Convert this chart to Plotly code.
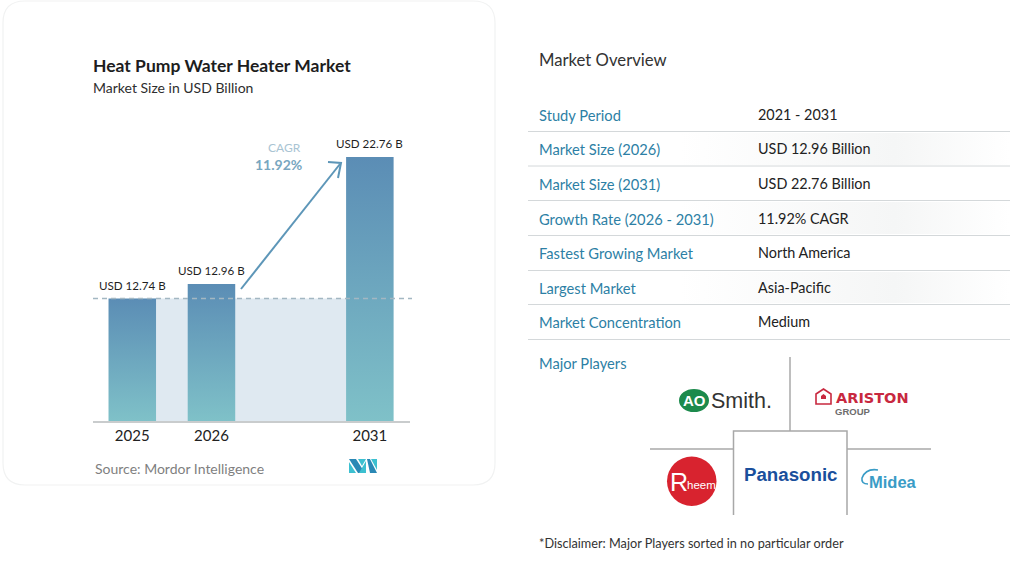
import plotly.graph_objects as go

# chart data
years = ['2025', '2026', '2031']
year_pos = [0, 1, 3]  # 2031 sits two slots along, the axis is not to scale
bar_labels = ['USD 12.74 B', 'USD 12.96 B', 'USD 22.76 B']
# bar heights as drawn (the picture does not follow the printed numbers)
bar_heights = [10.56, 11.81, 22.76]

# overview table
row_names = ['Study Period', 'Market Size (2026)', 'Market Size (2031)', 'Growth Rate (2026 - 2031)',
             'Fastest Growing Market', 'Largest Market', 'Market Concentration']
row_values = ['2021 - 2031', 'USD 12.96 Billion', 'USD 22.76 Billion', '11.92% CAGR',
              'North America', 'Asia-Pacific', 'Medium']
row_text_y = [115, 149, 184, 219, 253, 288, 322]
row_line_y = [131.5, 166, 200.5, 235.5, 270.5, 304.5, 339.5]
shaded_rows = [(133, 165), (202, 234), (272, 303)]

W, H = 1013, 565
FONT = 'Lato'
BAR_W = 0.3
BAR_TOP = '#5b8db5'
BAR_BOTTOM = '#7fc1c8'
TEAL = '#2d7fa5'
GRID = '#d4d8da'
LOGO_LINE = '#a8a8a8'

fig = go.Figure()

# light area behind the bars, at the 2025 level
fig.add_trace(go.Scatter(x=[year_pos[0], year_pos[0], year_pos[-1], year_pos[-1]],
                         y=[0, bar_heights[0], bar_heights[0], 0],
                         mode='lines', fill='toself', fillcolor='#dfe9f1',
                         line=dict(width=0), hoverinfo='skip', showlegend=False))

# bars, scatter because go.Bar can't do a gradient fill
for pos, h, year in zip(year_pos, bar_heights, years):
    fig.add_trace(go.Scatter(x=[pos - BAR_W, pos - BAR_W, pos + BAR_W, pos + BAR_W],
                             y=[0, h, h, 0], mode='lines', fill='toself', name=year,
                             fillgradient=dict(type='vertical',
                                               colorscale=[[0, BAR_BOTTOM], [1, BAR_TOP]]),
                             line=dict(width=0), showlegend=False))

# gradient bands on the table rows, on the full page pixel axes
for top, bottom in shaded_rows:
    fig.add_trace(go.Scatter(x=[680, 680, 1010, 1010], y=[bottom, top, top, bottom],
                             mode='lines', fill='toself', xaxis='x2', yaxis='y2',
                             fillgradient=dict(type='horizontal',
                                               colorscale=[[0, '#ffffff'], [0.65, '#f5f6f6'], [1, '#ffffff']]),
                             line=dict(width=0), hoverinfo='skip', showlegend=False))

shapes = []


def page_line(x0, y0, x1, y1, color, width=1.0, dash='solid'):
    shapes.append(dict(type='line', xref='x2', yref='y2', x0=x0, y0=y0, x1=x1, y1=y1,
                       line=dict(color=color, width=width, dash=dash)))


def page_path(path, fill=None, line=None, width=0):
    shapes.append(dict(type='path', xref='x2', yref='y2', path=path,
                       fillcolor=fill or 'rgba(0,0,0,0)',
                       line=dict(color=line or 'rgba(0,0,0,0)', width=width)))


# card outline
page_path('M25,1 L473,1 Q495,1 495,23 L495,463 Q495,485 473,485 L25,485 Q3,485 3,463 L3,23 Q3,1 25,1 Z',
          line='#f1f2f2', width=1.2)

# dashed level line
shapes.append(dict(type='line', xref='x2', yref='y', x0=93, x1=412,
                   y0=bar_heights[0], y1=bar_heights[0], layer='above',
                   line=dict(color='#a3b7c2', width=1.4, dash='5px,4px')))

# CAGR arrow
page_path('M241,289 L340,164', line='#5d96b8', width=2)
page_path('M328,162 L341,163 L338,178', line='#5d96b8', width=2)

# table lines
for y in row_line_y:
    page_line(528, y, 1010, y, GRID, 1)

# logo grid
page_line(790, 357, 790, 431, LOGO_LINE, 1.5)
page_line(650, 449, 733, 449, LOGO_LINE, 1.5)
page_line(847, 449, 931, 449, LOGO_LINE, 1.5)
page_path('M733.5,515 L733.5,431 L847,431 L847,515', line=LOGO_LINE, width=1.5)

# logos
shapes.append(dict(type='circle', xref='x2', yref='y2', x0=679, y0=389, x1=709, y1=412,
                   fillcolor='#1c8a4c', line=dict(width=0)))
shapes.append(dict(type='circle', xref='x2', yref='y2', x0=667, y0=456.5, x1=716.5, y1=506,
                   fillcolor='#d8232f', line=dict(width=0)))
page_path('M816,397 L816,394 L823.5,389 L831,394 L831,404 L816,404 Z', line='#c8283f', width=1.6)
page_path('M821,399 L821,396 L823.5,394 L826,396 L826,399 Z', fill='#c8283f')
page_path('M878,470 Q866,468 862,478 Q861,484 868,484', line='#3a9cc6', width=1.6)

# Mordor mark
page_path('M349,462 L349,473 L356,473 Z', fill='#3cc0d0')
page_path('M349,459 L356,459 L365,473 L358,473 Z', fill='#2a88b5')
page_path('M358,459 L366,459 L362,466 Z', fill='#3cc0d0')
page_path('M366,461 L366,473 L359,473 Z', fill='#3cc0d0')
page_path('M367,459 L370,459 L377,473 L370,473 Z', fill='#2a88b5')
page_path('M371,459 L377,459 L377,470 Z', fill='#3cc0d0')

notes = []

# value labels sit on the bars
for pos, h, label in zip(year_pos, bar_heights, bar_labels):
    notes.append(dict(xref='x', yref='y', x=pos, y=h, text=label, showarrow=False,
                      xanchor='center', yanchor='bottom', yshift=5,
                      font=dict(family=FONT, size=11.6, color='#1f1f1f')))


def text(x, y, s, size, color='#222222', anchor='left', family=FONT, weight=None):
    # annotations carry about 2px of padding on the left
    shift = -2 if anchor == 'left' else 0
    notes.append(dict(xref='x2', yref='y2', x=x + shift, y=y - 0.5, text=s, showarrow=False,
                      xanchor=anchor, yanchor='middle',
                      font=dict(family=family, size=size, color=color, weight=weight)))


text(93, 66, 'Heat Pump Water Heater Market', 17.5, '#1d1d1d', weight=700)
text(93, 88, 'Market Size in USD Billion', 14, '#2e2e2e')
text(303, 148, 'CAGR', 12, '#a9c4d3', anchor='right')
text(304, 165, '11.92%', 14, '#78a6c0', anchor='right', weight=700)
text(95, 469, 'Source: Mordor Intelligence', 14, '#7f7f7f')

text(539, 60, 'Market Overview', 16.7, '#333333')
for name, value, y in zip(row_names, row_values, row_text_y):
    text(539, y, name, 14.7, TEAL)
    text(758, y, value, 14.4, '#222222')
text(539, 363, 'Major Players', 14.7, TEAL)
text(539, 543, '*Disclaimer: Major Players sorted in no particular order', 12.7, '#333333')

# logo wordmarks
text(694, 401, 'AO', 15, '#ffffff', anchor='center', weight=700, family='Liberation Sans')
text(711, 401, 'Smith.', 21.5, '#333333', family='Liberation Sans')
text(836, 398, 'ARISTON', 14.5, '#c8283f', weight=700, family='DejaVu Sans')
text(835, 412, 'GROUP', 9.5, '#6d6d6d', weight=700, family='Liberation Sans')
text(679, 482, 'R', 25, '#ffffff', anchor='center', family='Liberation Sans')
text(701, 485, 'heem', 11.5, '#ffffff', anchor='center', family='Liberation Sans')
text(790, 475, 'Panasonic', 18.7, '#1a4f9c', anchor='center', weight=700, family='Liberation Sans')
text(893, 482, 'Midea', 16.5, '#3a9cc6', anchor='center', weight=700, family='Liberation Sans')

fig.update_layout(
    width=W, height=H, margin=dict(l=0, r=0, t=0, b=0),
    paper_bgcolor='white', plot_bgcolor='rgba(0,0,0,0)',
    shapes=shapes, annotations=notes,
    xaxis=dict(domain=[93 / W, 410 / W], range=[-0.496, 3.507], tickvals=year_pos, ticktext=years,
               showgrid=False, zeroline=False, showline=True, linecolor='#c9cccd', linewidth=1.5,
               ticks='', tickfont=dict(family=FONT, size=15, color='#222222')),
    yaxis=dict(domain=[1 - 421 / H, 1 - 130 / H], range=[0, 291 / 11.6], visible=False,
               showgrid=False, zeroline=False),
    xaxis2=dict(domain=[0, 1], range=[0, W], visible=False, anchor='y2'),
    yaxis2=dict(domain=[0, 1], range=[H, 0], visible=False, anchor='x2'),
)

fig.write_html('out.html', config=dict(displayModeBar=False),
               post_script="document.body.style.margin='0';")
